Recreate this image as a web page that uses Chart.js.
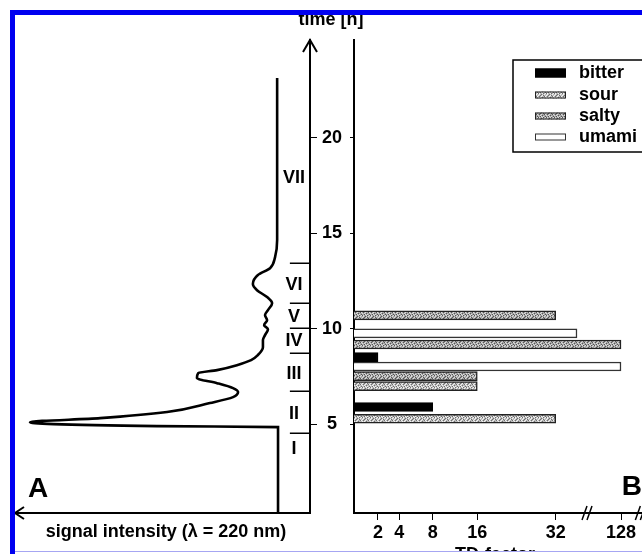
<!DOCTYPE html>
<html><head><meta charset="utf-8">
<script src="https://cdn.jsdelivr.net/npm/chart.js@4/dist/chart.umd.min.js"></script>
<style>
html,body{margin:0;padding:0;background:#fff;width:642px;height:554px;overflow:hidden;}
#wrap{position:relative;width:642px;height:554px;overflow:hidden;}
canvas{position:absolute;top:0;}
#ca{left:0;}
#cb{left:330px;}
#frameTop{position:absolute;left:10px;top:10px;width:632px;height:5px;background:#0000f0;z-index:5;}
#frameLeft{position:absolute;left:10px;top:10px;width:5px;height:544px;background:#0000f0;z-index:5;}
#frameBottom{position:absolute;left:15px;top:551px;width:627px;height:3px;background:#fff;border-top:1px solid #a6a6f2;box-sizing:border-box;z-index:5;}
</style></head>
<body>
<div id="wrap">
<canvas id="ca" width="400" height="554"></canvas>
<canvas id="cb" width="312" height="554"></canvas>
<div id="frameTop"></div><div id="frameLeft"></div><div id="frameBottom"></div>
</div>
<script>
// ---------- data ----------
// Panel A: chromatogram (time [h] vs. signal intensity, arbitrary units)
const chromTime   = [0.37, 4.86, 4.91, 5.12, 5.33, 5.65, 6.12, 6.43, 6.69, 6.90, 7.16, 7.42, 7.68, 7.84, 8.10, 8.36, 8.63, 9.04, 9.41, 9.67, 9.98, 10.19, 10.45, 10.72, 10.98, 11.34, 11.66, 12.02, 12.34, 12.81, 13.17, 13.75, 14.64, 23.11];
const chromSignal = [10.8, 10.8, 51.7, 94.6, 70.9, 48.3, 33.8, 26.0, 24.3, 26.0, 31.4, 38.2, 37.8, 31.4, 24.7, 19.9, 17.6, 15.9, 15.9, 15.2, 14.2, 15.5, 14.5, 15.2, 14.2, 12.8, 14.5, 17.9, 19.3, 17.6, 13.5, 11.8, 11.1, 11.1];
const timeTicks = [5, 10, 15, 20];
const fractionBounds = [4.55, 6.74, 8.71, 10.02, 11.33, 13.42];
const fractionLabels = ['I', 'II', 'III', 'IV', 'V', 'VI', 'VII'];
const fractionLabelTimes = [3.74, 5.54, 7.66, 9.36, 10.59, 12.31, 17.88];

// Panel B: taste dilution factors per fraction time
const tastes = ['bitter', 'sour', 'salty', 'umami'];
const bitterTime = [5.91, 8.52];
const bitterTD   = [8, 2];
const sourTime   = [5.30, 7.00];
const sourTD     = [32, 16];
const saltyTime  = [7.53, 9.18, 10.70];
const saltyTD    = [16, 128, 32];
const umamiTime  = [8.03, 9.76];
const umamiTD    = [128, 64];
const tdTicks = [2, 4, 8, 16, 32, 128];

// ---------- style / layout ----------
const FONT = '"Liberation Sans", Arial, Helvetica, sans-serif';
Chart.defaults.font.family = FONT;
Chart.defaults.color = '#000';

// irregular (hand-drawn) TD-factor axis: value -> fraction of axis length
const TD_AXIS_VALUES    = [0, 2, 4, 8, 16, 32, 64, 128, 160];
const TD_AXIS_FRACTIONS = [0, 0.0833, 0.1573, 0.2733, 0.4281, 0.7003, 0.7743, 0.9271, 1];
const TD_BREAKS = [80, 159];

class PiecewiseScale extends Chart.LinearScale {
  _dec(value) {
    const v = this.options.anchorValues, f = this.options.anchorFractions;
    const n = v.length;
    if (value <= v[0]) return f[0];
    for (let i = 1; i < n; i++) {
      if (value <= v[i]) return f[i-1] + (value - v[i-1]) / (v[i] - v[i-1]) * (f[i] - f[i-1]);
    }
    return f[n-1] + (value - v[n-1]) * (f[n-1] - f[n-2]) / (v[n-1] - v[n-2]);
  }
  getPixelForValue(value) {
    if (value === null || value === undefined || isNaN(value)) return NaN;
    return this.getPixelForDecimal(this._dec(value));
  }
  getValueForPixel(pixel) {
    const d = this.getDecimalForPixel(pixel);
    const v = this.options.anchorValues, f = this.options.anchorFractions;
    for (let i = 1; i < v.length; i++) {
      if (d <= f[i]) return v[i-1] + (d - f[i-1]) / (f[i] - f[i-1]) * (v[i] - v[i-1]);
    }
    return v[v.length-1];
  }
}
PiecewiseScale.id = 'piecewise';
PiecewiseScale.defaults = Chart.LinearScale.defaults;
Chart.register(PiecewiseScale);

// stippled grey textures for sour / salty
function makePattern(light, mid, dark) {
  const map = ['mdmwmmdw', 'wmwmdmmm', 'mmdwmwmd', 'dwmmwdmw', 'mwmdmmwm', 'wmdmwdmm'];
  const c = document.createElement('canvas');
  c.width = map[0].length; c.height = map.length;
  const g = c.getContext('2d');
  const col = {d: dark, m: mid, w: light};
  for (let r = 0; r < map.length; r++) for (let k = 0; k < map[r].length; k++) {
    g.fillStyle = col[map[r][k]]; g.fillRect(k, r, 1, 1);
  }
  return g.createPattern(c, 'repeat');
}
const FILLS = {
  bitter: '#000',
  sour: makePattern('#f2f2f2', '#bcbcbc', '#6e6e6e'),
  salty: makePattern('#dcdcdc', '#a6a6a6', '#555555'),
  umami: '#fff'
};
const BORDERS = { bitter: '#000', sour: '#222', salty: '#222', umami: '#333' };

const TIME_MIN = 0.37, TIME_MAX = 25.1;
const SIGNAL_MAX = 100;
const FRACTION_MARK_START = 6.8;   // signal units (left end of fraction marks)
const FRACTION_LABEL_POS = 5.4;

// ---------- Panel A ----------
const decorA = {
  id: 'decorA',
  afterDraw(chart) {
    const {ctx, chartArea: a, scales: {x, y}} = chart;
    ctx.save();
    ctx.strokeStyle = '#000'; ctx.fillStyle = '#000';
    ctx.lineWidth = 1.5;
    const x0 = x.getPixelForValue(FRACTION_MARK_START);
    fractionBounds.forEach(t => {
      const py = Math.round(y.getPixelForValue(t)) + 0.25;
      ctx.beginPath(); ctx.moveTo(x0, py); ctx.lineTo(a.right, py); ctx.stroke();
    });
    ctx.font = 'bold 18px ' + FONT; ctx.textAlign = 'center'; ctx.textBaseline = 'middle';
    const lx = x.getPixelForValue(FRACTION_LABEL_POS);
    fractionLabels.forEach((l, i) => ctx.fillText(l, lx, y.getPixelForValue(fractionLabelTimes[i])));
    // arrow heads
    ctx.lineWidth = 2;
    ctx.beginPath(); ctx.moveTo(a.right - 7, a.top + 12); ctx.lineTo(a.right, a.top); ctx.lineTo(a.right + 7, a.top + 12); ctx.stroke();
    ctx.beginPath(); ctx.moveTo(a.left + 10, a.bottom - 6); ctx.lineTo(a.left + 1, a.bottom); ctx.lineTo(a.left + 10, a.bottom + 6); ctx.stroke();
    // titles
    ctx.textBaseline = 'alphabetic';
    ctx.fillText('time [h]', a.right + 21, 25);
    ctx.textBaseline = 'middle';
    ctx.fillText('signal intensity (\u03bb = 220 nm)', (a.left + a.right) / 2 + 4, a.bottom + 19);
    ctx.font = 'bold 28px ' + FONT; ctx.textAlign = 'left'; ctx.textBaseline = 'alphabetic';
    ctx.fillText('A', a.left + 14, a.bottom - 16);
    ctx.restore();
  }
};

new Chart(document.getElementById('ca'), {
  type: 'scatter',
  data: {
    datasets: [{
      data: chromTime.map((t, i) => ({x: chromSignal[i], y: t})),
      showLine: true, borderColor: '#000', borderWidth: 2.6,
      pointRadius: 0, cubicInterpolationMode: 'monotone', fill: false
    }]
  },
  options: {
    indexAxis: 'y',
    responsive: false, animation: false, events: [],
    layout: {padding: {left: 14, top: 40, right: 0, bottom: 0}},
    plugins: {legend: {display: false}, tooltip: {enabled: false}},
    scales: {
      x: {
        type: 'linear', reverse: true, min: 0, max: SIGNAL_MAX, position: 'bottom',
        grid: {display: false},
        border: {display: true, color: '#000', width: 2},
        ticks: {display: false},
        afterFit: s => { s.height = 41; }
      },
      y: {
        type: 'linear', position: 'right', min: TIME_MIN, max: TIME_MAX,
        grid: {drawOnChartArea: false, drawTicks: true, tickLength: 7, color: '#000', lineWidth: 1},
        border: {display: true, color: '#000', width: 2},
        ticks: {font: {size: 18, weight: 'bold'}, color: '#000', padding: 5, crossAlign: 'center', autoSkip: false},
        afterBuildTicks: s => { s.ticks = timeTicks.map(v => ({value: v})); },
        afterFit: s => { s.width = 90; }
      }
    }
  },
  plugins: [decorA]
});

// ---------- Panel B ----------
const seriesTime = {bitter: bitterTime, sour: sourTime, salty: saltyTime, umami: umamiTime};
const seriesTD = {bitter: bitterTD, sour: sourTD, salty: saltyTD, umami: umamiTD};

const LEGEND = {left: 183, top: 60, width: 200, height: 92, swX: 205, swW: 31, textX: 249, rows: [73, 95, 116, 137]};

const decorB = {
  id: 'decorB',
  afterDraw(chart) {
    const {ctx, chartArea: a, scales: {x}} = chart;
    ctx.save();
    ctx.strokeStyle = '#000'; ctx.lineWidth = 1.5;
    TD_BREAKS.forEach(v => {
      const bx = x.getPixelForValue(v), by = a.bottom;
      [[-6, -1], [-1, 4]].forEach(([p, q]) => {
        ctx.beginPath(); ctx.moveTo(bx + p, by + 7); ctx.lineTo(bx + q, by - 7); ctx.stroke();
      });
    });
    // legend
    ctx.fillStyle = '#fff';
    ctx.fillRect(LEGEND.left, LEGEND.top, LEGEND.width, LEGEND.height);
    ctx.lineWidth = 1.5; ctx.strokeStyle = '#000';
    ctx.strokeRect(LEGEND.left, LEGEND.top, LEGEND.width, LEGEND.height);
    chart.data.datasets.forEach((ds, i) => {
      const cy = LEGEND.rows[i];
      const h = i === 0 ? 9 : 7;
      ctx.fillStyle = ds.backgroundColor;
      ctx.fillRect(LEGEND.swX, cy - h / 2, LEGEND.swW, h);
      ctx.lineWidth = 1; ctx.strokeStyle = ds.borderColor;
      ctx.strokeRect(LEGEND.swX + 0.5, cy - h / 2 + 0.5, LEGEND.swW - 1, h - 1);
      ctx.fillStyle = '#000';
      ctx.font = 'bold 18px ' + FONT; ctx.textAlign = 'left'; ctx.textBaseline = 'middle';
      ctx.fillText(ds.label, LEGEND.textX, cy);
    });
    ctx.fillStyle = '#000';
    ctx.font = 'bold 28px ' + FONT; ctx.textAlign = 'right'; ctx.textBaseline = 'alphabetic';
    ctx.fillText('B', a.right, a.bottom - 18);
    ctx.font = 'bold 18px ' + FONT; ctx.textAlign = 'center';
    ctx.fillText('TD-factor', (a.left + a.right) / 2 - 3, a.bottom + 47);
    ctx.restore();
  }
};

new Chart(document.getElementById('cb'), {
  type: 'bar',
  data: {
    datasets: tastes.map(name => ({
      label: name,
      data: seriesTime[name].map((t, i) => ({y: t, x: seriesTD[name][i]})),
      backgroundColor: FILLS[name], borderColor: BORDERS[name], borderWidth: 1.5,
      borderSkipped: 'start'
    }))
  },
  options: {
    indexAxis: 'y',
    responsive: false, animation: false, events: [],
    layout: {padding: {left: 0, top: 40, right: 0, bottom: 0}},
    datasets: {bar: {grouped: false, barThickness: 9}},
    plugins: {legend: {display: false}, tooltip: {enabled: false}},
    scales: {
      x: {
        type: 'piecewise', min: 0, max: 160,
        anchorValues: TD_AXIS_VALUES, anchorFractions: TD_AXIS_FRACTIONS,
        grid: {drawOnChartArea: false, drawTicks: true, tickLength: 7, color: '#000', lineWidth: 1},
        border: {display: true, color: '#000', width: 2},
        ticks: {font: {size: 18, weight: 'bold'}, color: '#000', padding: 2, autoSkip: false, maxRotation: 0},
        afterBuildTicks: s => { s.ticks = tdTicks.map(v => ({value: v})); },
        afterFit: s => { s.height = 41; }
      },
      y: {
        type: 'linear', position: 'left', min: TIME_MIN, max: TIME_MAX, offset: false,
        grid: {drawOnChartArea: false, drawTicks: true, tickLength: 4, color: '#000', lineWidth: 1, offset: false},
        border: {display: true, color: '#000', width: 2},
        ticks: {display: false},
        afterBuildTicks: s => { s.ticks = timeTicks.map(v => ({value: v})); },
        afterFit: s => { s.width = 24; }
      }
    }
  },
  plugins: [decorB]
});
</script>
</body></html>
